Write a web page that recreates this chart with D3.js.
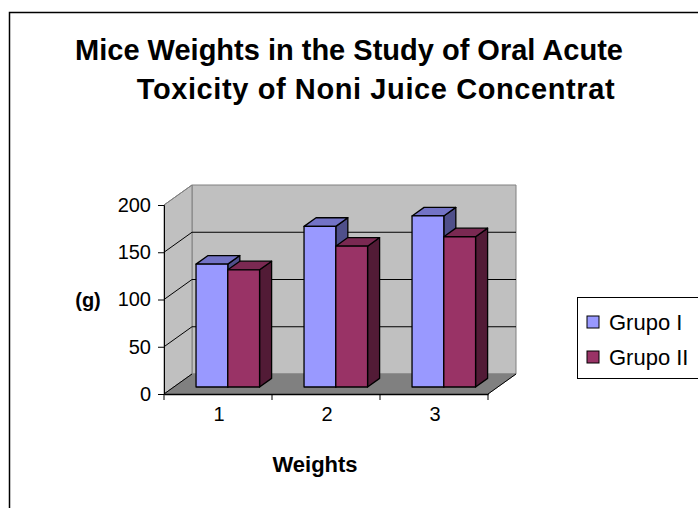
<!DOCTYPE html>
<html>
<head>
<meta charset="utf-8">
<script src="https://cdn.jsdelivr.net/npm/d3@7"></script>
<style>
  html, body { margin: 0; padding: 0; background: #fff; }
  svg { display: block; font-family: "Liberation Sans", Arial, sans-serif; }
</style>
</head>
<body>
<div id="chart"></div>
<script>
// data
const categories = ['1', '2', '3'];
const seriesNames = ['Grupo I', 'Grupo II'];
const grupoI = [130, 170, 181];
const grupoII = [124, 149, 159];
const yTicks = [0, 50, 100, 150, 200];
const titleLines = ['Mice Weights in the Study of Oral Acute', 'Toxicity of Noni Juice Concentrat'];

const colors = {
  'Grupo I': { front: '#9999ff', top: '#7373c6', side: '#4f4f8a' },
  'Grupo II': { front: '#993366', top: '#7a2952', side: '#521b36' },
};

const W = 698, H = 508;
const svg = d3.select('#chart').append('svg')
  .attr('width', W)
  .attr('height', H);

// chart area border (runs off the right and bottom of the picture)
svg.append('rect')
  .attr('x', 9.5).attr('y', 12.5)
  .attr('width', 720).attr('height', 520)
  .attr('fill', '#fff')
  .attr('stroke', '#000')
  .attr('stroke-width', 1.5);

// 3d setup: depth vector for the oblique projection
const depth = { dx: 28, dy: -20 };
const proj = (x, y, z) => [x + depth.dx * z, y + depth.dy * z];
const pts = (arr) => arr.map((p) => p.join(',')).join(' ');

const x = d3.scaleBand().domain(categories).range([164, 488]);
const xs = d3.scaleBand().domain(seriesNames).range([0, x.bandwidth()]).paddingOuter(0.7);
const y = d3.scaleLinear().domain([0, 200]).range([394, 205]);

const x0 = x.range()[0], x1 = x.range()[1];
const y0 = y(0), yTop = y(200);

// walls and floor
const walls = svg.append('g').attr('class', 'walls');
walls.append('polygon') // back wall
  .attr('points', pts([proj(x0, yTop, 1), proj(x1, yTop, 1), proj(x1, y0, 1), proj(x0, y0, 1)]))
  .attr('fill', '#c0c0c0')
  .attr('stroke', '#808080');
walls.append('polygon') // left wall
  .attr('points', pts([proj(x0, yTop, 0), proj(x0, yTop, 1), proj(x0, y0, 1), proj(x0, y0, 0)]))
  .attr('fill', '#c0c0c0')
  .attr('stroke', '#808080');
walls.append('polygon') // floor
  .attr('points', pts([proj(x0, y0, 0), proj(x0, y0, 1), proj(x1, y0, 1), proj(x1, y0, 0)]))
  .attr('fill', '#808080')
  .attr('stroke', '#808080');

// gridlines
const grid = svg.append('g').attr('class', 'grid');
yTicks.filter((t) => t > 0 && t < 200).forEach((t) => {
  const a = proj(x0, y(t), 0), b = proj(x0, y(t), 1), c = proj(x1, y(t), 1);
  grid.append('polyline')
    .attr('points', pts([a, b, c]))
    .attr('fill', 'none')
    .attr('stroke', '#000')
    .attr('stroke-width', 1);
});
// top and floor edge lines on the left wall
[0, 200].forEach((t) => {
  const a = proj(x0, y(t), 0), b = proj(x0, y(t), 1);
  grid.append('line')
    .attr('x1', a[0]).attr('y1', a[1]).attr('x2', b[0]).attr('y2', b[1])
    .attr('stroke', t === 0 ? '#000' : '#808080');
});
// floor right edge
const fr0 = proj(x1, y0, 0), fr1 = proj(x1, y0, 1);
grid.append('line')
  .attr('x1', fr0[0]).attr('y1', fr0[1]).attr('x2', fr1[0]).attr('y2', fr1[1])
  .attr('stroke', '#000');

// bars
const zf = 0.35, zb = 0.78;
const bars = svg.append('g').attr('class', 'bars');
categories.forEach((c, i) => {
  [grupoI[i], grupoII[i]].forEach((v, s) => {
    const name = seriesNames[s];
    const xl = x(c) + xs(name), xr = xl + xs.bandwidth();
    const g = bars.append('g').attr('class', 'bar');
    g.append('polygon')
      .attr('points', pts([proj(xr, y0, zf), proj(xr, y(v), zf), proj(xr, y(v), zb), proj(xr, y0, zb)]))
      .attr('fill', colors[name].side)
      .attr('stroke', '#000').attr('stroke-width', 1.3).attr('stroke-linejoin', 'round');
    g.append('polygon')
      .attr('points', pts([proj(xl, y(v), zf), proj(xr, y(v), zf), proj(xr, y(v), zb), proj(xl, y(v), zb)]))
      .attr('fill', colors[name].top)
      .attr('stroke', '#000').attr('stroke-width', 1.3).attr('stroke-linejoin', 'round');
    g.append('polygon')
      .attr('points', pts([proj(xl, y0, zf), proj(xr, y0, zf), proj(xr, y(v), zf), proj(xl, y(v), zf)]))
      .attr('fill', colors[name].front)
      .attr('stroke', '#000').attr('stroke-width', 1.3).attr('stroke-linejoin', 'round');
  });
});

// y axis
const yAxis = svg.append('g')
  .attr('transform', `translate(${x0},0)`)
  .call(d3.axisLeft(y).tickValues(yTicks).tickSize(6).tickPadding(7));
yAxis.select('.domain').attr('stroke', '#000');
yAxis.selectAll('text')
  .attr('font-size', 20)
  .attr('font-family', '"Liberation Sans", Arial, sans-serif')
  .attr('fill', '#000');

// x axis
const xAxis = svg.append('g')
  .attr('transform', `translate(0,${y0})`)
  .call(d3.axisBottom(x).tickSize(0).tickPadding(13));
xAxis.select('.domain').attr('stroke', '#000').attr('stroke-width', 1.5);
xAxis.selectAll('text')
  .attr('font-size', 20)
  .attr('font-family', '"Liberation Sans", Arial, sans-serif')
  .attr('fill', '#000')
  .attr('dx', 1);
// category boundary ticks
xAxis.selectAll('line.sep')
  .data(categories.map((c) => x(c)).concat([x1]))
  .enter().append('line')
  .attr('class', 'sep')
  .attr('x1', (d) => d).attr('x2', (d) => d)
  .attr('y1', 0).attr('y2', 6)
  .attr('stroke', '#000');

// axis titles
svg.append('text')
  .attr('x', 88).attr('y', 307)
  .attr('text-anchor', 'middle')
  .attr('font-size', 20).attr('font-weight', 'bold')
  .text('(g)');
svg.append('text')
  .attr('x', 315).attr('y', 472)
  .attr('text-anchor', 'middle')
  .attr('font-size', 22).attr('font-weight', 'bold')
  .text('Weights');

// title
svg.append('g').selectAll('text')
  .data(titleLines)
  .enter().append('text')
  .attr('x', (d, i) => (i === 0 ? 349 : 376))
  .attr('y', (d, i) => 60 + i * 39)
  .attr('text-anchor', 'middle')
  .attr('font-size', 29)
  .attr('font-weight', 'bold')
  .attr('letter-spacing', (d, i) => (i === 0 ? 0 : 0.6))
  .text((d) => d);

// legend
const legend = svg.append('g').attr('transform', 'translate(577,297)');
legend.append('rect')
  .attr('x', 0.5).attr('y', 0.5)
  .attr('width', 140).attr('height', 81)
  .attr('fill', '#fff').attr('stroke', '#000');
const li = legend.selectAll('g.item')
  .data(seriesNames)
  .enter().append('g')
  .attr('class', 'item')
  .attr('transform', (d, i) => `translate(10,${25 + i * 35})`);
li.append('rect')
  .attr('x', 0).attr('y', -6)
  .attr('width', 12).attr('height', 12)
  .attr('fill', (d) => colors[d].front)
  .attr('stroke', '#000');
li.append('text')
  .attr('x', 22).attr('y', 8)
  .attr('font-size', 22)
  .text((d) => d);
</script>
</body>
</html>
